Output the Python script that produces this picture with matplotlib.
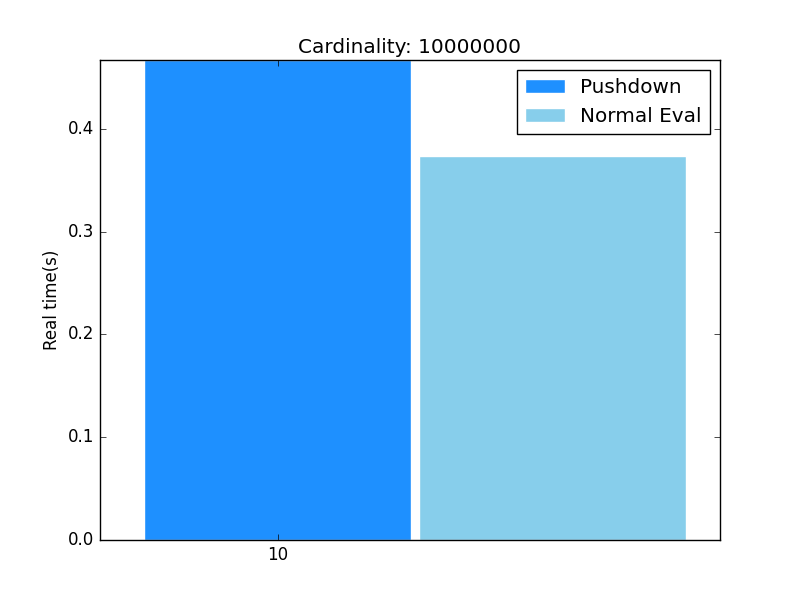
import matplotlib
import numpy as np

matplotlib.use("Agg")
import matplotlib.pyplot as plt  # noqa: E402

plt.style.use("classic")

# data
series = ["Pushdown", "Normal Eval"]
times = [0.467, 0.374]
colors = ["#1E90FF", "#87CEEB"]
group_labels = ["10"]
cardinality = 10000000

width = 0.35
ind = np.arange(len(group_labels))

fig, ax = plt.subplots(figsize=(8, 6), dpi=100)
fig.patch.set_facecolor("white")
for i, (name, t, c) in enumerate(zip(series, times, colors)):
    ax.bar(ind + i * (width + 0.01), [t], width, color=c, edgecolor="white",
           linewidth=1, label=name, align="edge")

ax.set_xticks(ind + width / 2)
ax.set_xticklabels(group_labels)
ax.set_xlim(-0.0577, 0.755)
ax.set_ylim(0, max(times))
ax.set_yticks(np.arange(0, 0.45, 0.1))
ax.set_ylabel("Real time(s)")
ax.set_title(f"Cardinality: {cardinality}")
ax.legend(loc="upper right", fontsize="large")

fig.savefig("out.png", dpi=100, facecolor="white")
